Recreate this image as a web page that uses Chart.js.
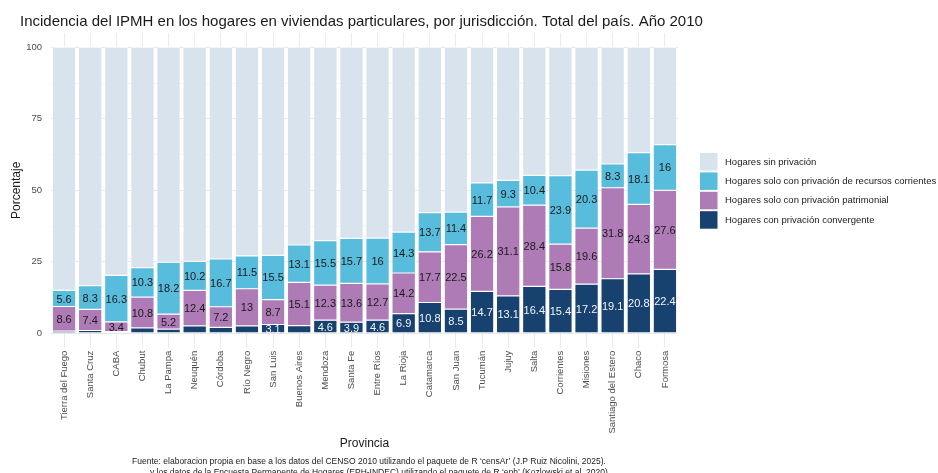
<!DOCTYPE html>
<html lang="es">
<head>
<meta charset="utf-8">
<title>IPMH por jurisdicción 2010</title>
<script src="https://cdn.jsdelivr.net/npm/chart.js@4.4.1/dist/chart.umd.min.js"></script>
<style>
  html, body { margin: 0; padding: 0; background: #fff; }
  #wrap { position: relative; width: 938px; height: 473px; }
</style>
</head>
<body>
<div id="wrap"><canvas id="ipmhChart"></canvas></div>
<script>
// datos (porcentaje de hogares)
var provincias = ['Tierra del Fuego', 'Santa Cruz', 'CABA', 'Chubut', 'La Pampa', 'Neuquén', 'Córdoba',
  'Río Negro', 'San Luis', 'Buenos Aires', 'Mendoza', 'Santa Fe', 'Entre Ríos', 'La Rioja', 'Catamarca',
  'San Juan', 'Tucumán', 'Jujuy', 'Salta', 'Corrientes', 'Misiones', 'Santiago del Estero', 'Chaco', 'Formosa'];
var convergente = [0.8, 1.0, 0.6, 1.9, 1.5, 2.6, 2.1, 2.6, 3.1, 2.7, 4.6, 3.9, 4.6, 6.9, 10.8, 8.5, 14.7, 13.1, 16.4, 15.4, 17.2, 19.1, 20.8, 22.4];
var patrimonial = [8.6, 7.4, 3.4, 10.8, 5.2, 12.4, 7.2, 13, 8.7, 15.1, 12.3, 13.6, 12.7, 14.2, 17.7, 22.5, 26.2, 31.1, 28.4, 15.8, 19.6, 31.8, 24.3, 27.6];
var corrientes = [5.6, 8.3, 16.3, 10.3, 18.2, 10.2, 16.7, 11.5, 15.5, 13.1, 15.5, 15.7, 16, 14.3, 13.7, 11.4, 11.7, 9.3, 10.4, 23.9, 20.3, 8.3, 18.1, 16];
var sinPrivacion = [85.0, 83.3, 79.7, 77.0, 75.1, 74.8, 74.0, 72.9, 72.7, 69.1, 67.6, 66.8, 66.7, 64.6, 57.8, 57.6, 47.4, 46.5, 44.8, 44.9, 42.9, 40.8, 36.8, 34.0];
var yTicks = [0, 12.5, 25, 37.5, 50, 62.5, 75, 87.5, 100];

var titulo = 'Incidencia del IPMH en los hogares en viviendas particulares, por jurisdicción. Total del país. Año 2010';
var fuente = [
  'Fuente: elaboracion propia en base a los datos del CENSO 2010 utilizando el paquete de R \u2018censAr\u2019 (J.P Ruiz Nicolini, 2025).',
  'y los datos de la Encuesta Permanente de Hogares (EPH-INDEC) utilizando el paquete de R \u2018eph\u2019 (Kozlowski et al. 2020).'
];

var FUENTE = '"Liberation Sans", Arial, sans-serif';
Chart.defaults.font.family = FUENTE;

// etiquetas de valor dentro de cada segmento
var etiquetas = {
  id: 'etiquetas',
  afterDatasetsDraw: function (chart) {
    var ctx = chart.ctx;
    ctx.save();
    ctx.font = '11px ' + FUENTE;
    ctx.textAlign = 'center';
    ctx.textBaseline = 'middle';
    chart.data.datasets.forEach(function (ds, i) {
      if (!ds.colorTexto) return;
      chart.getDatasetMeta(i).data.forEach(function (bar, j) {
        var v = ds.data[j];
        if (v < 3) return;
        ctx.fillStyle = ds.colorTexto;
        ctx.fillText(String(v), bar.x, (bar.y + bar.base) / 2 + 1);
      });
    });
    ctx.restore();
  }
};

// titulo, leyenda a la derecha y fuente
var textos = {
  id: 'textos',
  afterDraw: function (chart) {
    var ctx = chart.ctx;
    var ds = chart.data.datasets;
    ctx.save();
    ctx.fillStyle = '#1a1a1a';
    ctx.textAlign = 'left';
    ctx.font = '15px ' + FUENTE;
    ctx.fillText(titulo, 20, 26);

    ctx.font = '9.5px ' + FUENTE;
    ctx.textBaseline = 'middle';
    for (var k = 0; k < ds.length; k++) {
      var d = ds[ds.length - 1 - k];
      var y = 153 + k * 19.4;
      ctx.fillStyle = d.backgroundColor;
      ctx.fillRect(700, y, 17.5, 17.5);
      ctx.fillStyle = '#1a1a1a';
      ctx.fillText(d.label, 725, y + 9);
    }

    ctx.textBaseline = 'alphabetic';
    ctx.textAlign = 'center';
    ctx.font = '8.5px ' + FUENTE;
    ctx.fillText(fuente[0], 369, 464);
    ctx.fillText(fuente[1], 380, 475);
    ctx.restore();
  }
};

var ctx = document.getElementById('ipmhChart').getContext('2d');
var chart = new Chart(ctx, {
  type: 'bar',
  data: {
    labels: provincias,
    datasets: [
      { label: 'Hogares con privación convergente', data: convergente, backgroundColor: '#17416f', colorTexto: '#f2f5f9' },
      { label: 'Hogares solo con privación patrimonial', data: patrimonial, backgroundColor: '#ae7bb6', colorTexto: '#1a1a1a' },
      { label: 'Hogares solo con privación de recursos corrientes', data: corrientes, backgroundColor: '#58bcdc', colorTexto: '#1a1a1a' },
      { label: 'Hogares sin privación', data: sinPrivacion, backgroundColor: '#d9e3ee' }
    ]
  },
  options: {
    responsive: true,
    maintainAspectRatio: false,
    animation: false,
    datasets: {
      bar: { barPercentage: 0.9, categoryPercentage: 1, borderColor: '#ffffff', borderWidth: 0.6, borderSkipped: false }
    },
    layout: { padding: { top: 33, bottom: 22, left: 0, right: 260 } },
    plugins: {
      title: { display: false },
      tooltip: { enabled: false },
      legend: { display: false }
    },
    scales: {
      x: {
        stacked: true,
        grid: { offset: false, color: '#ebebeb', drawTicks: false },
        border: { display: false },
        ticks: { autoSkip: false, maxRotation: 90, minRotation: 90, color: '#4d4d4d', font: { size: 9.5 }, padding: 3 },
        title: { display: true, text: 'Provincia', color: '#1a1a1a', font: { size: 12 }, padding: { top: 0, bottom: 0 } }
      },
      y: {
        stacked: true,
        min: -5,
        max: 105,
        afterBuildTicks: function (axis) {
          axis.ticks = yTicks.map(function (v) { return { value: v }; });
        },
        afterFit: function (axis) { axis.width = 51; },
        grid: {
          drawTicks: false,
          color: function (c) { return c.tick && c.tick.value % 25 === 0 ? '#e6e6e6' : '#f3f3f3'; }
        },
        border: { display: false },
        ticks: {
          color: '#4d4d4d', font: { size: 9.5 }, padding: 9,
          callback: function (v) { return v % 25 === 0 ? v : ''; }
        },
        title: { display: true, text: 'Porcentaje', color: '#1a1a1a', font: { size: 12 }, padding: { top: 9, bottom: 0 } }
      }
    }
  },
  plugins: [etiquetas, textos]
});
</script>
</body>
</html>
